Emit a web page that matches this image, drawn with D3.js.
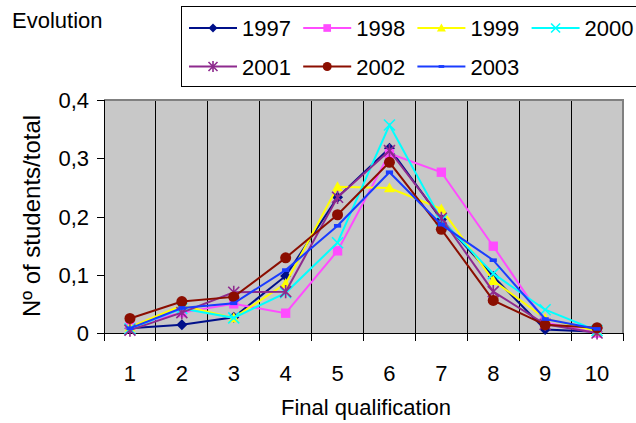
<!DOCTYPE html>
<html><head><meta charset="utf-8">
<script src="https://cdn.jsdelivr.net/npm/d3@7"></script>
<style>body{margin:0;background:#fff}svg{display:block}text{font-family:"Liberation Sans",Arial,sans-serif;fill:#000}</style>
</head><body>
<script>
const categories = ["1","2","3","4","5","6","7","8","9","10"];
const yTicks = [0, 0.1, 0.2, 0.3, 0.4];
const yTickLabels = ["0", "0,1", "0,2", "0,3", "0,4"];
const seriesNames = ["1997","1998","1999","2000","2001","2002","2003"];
const s1997 = [0.008, 0.014, 0.027, 0.098, 0.233, 0.317, 0.195, 0.097, 0.006, 0.002];
const s1998 = [0.012, 0.035, 0.050, 0.034, 0.141, 0.308, 0.276, 0.149, 0.018, 0.000];
const s1999 = [0.010, 0.047, 0.026, 0.085, 0.251, 0.249, 0.213, 0.090, 0.025, 0.003];
const s2000 = [0.007, 0.042, 0.026, 0.069, 0.155, 0.357, 0.194, 0.102, 0.040, 0.004];
const s2001 = [0.005, 0.035, 0.070, 0.071, 0.233, 0.313, 0.197, 0.071, 0.015, 0.000];
const s2002 = [0.025, 0.054, 0.062, 0.129, 0.203, 0.293, 0.178, 0.056, 0.014, 0.009];
const s2003 = [0.008, 0.043, 0.051, 0.108, 0.184, 0.276, 0.186, 0.125, 0.024, 0.007];
const seriesValues = [s1997, s1998, s1999, s2000, s2001, s2002, s2003];
const colors = ["#00108a", "#ff4cff", "#ffff00", "#00ffff", "#8e2a8e", "#8b0e00", "#1a3cff"];
const markers = ["diamond", "square", "triangle", "x", "star", "circle", "dash"];

(function () {
const W = 636, H = 423;
const pL = 104, pR = 623, pT = 100, pB = 333;

const svg = d3.select("body").append("svg").attr("width", W).attr("height", H);

const x = d3.scaleBand().domain(categories).range([pL, pR]).padding(0);
const y = d3.scaleLinear().domain([0, 0.4]).range([pB, pT]);

function txt(g, str, tx, ty, size, anchor, rot) {
  return g.append("text").text(str).attr("font-size", size).attr("text-anchor", anchor || "start")
    .attr("transform", `translate(${tx},${ty})` + (rot ? ` rotate(${rot})` : ""));
}

svg.append("rect").attr("x", pL).attr("y", pT).attr("width", pR - pL).attr("height", pB - pT)
  .attr("fill", "#c8c8c8");
const bounds = categories.slice(1).map(c => x(c));
svg.selectAll("line.grid").data(bounds).enter().append("line")
  .attr("x1", d => d).attr("x2", d => d).attr("y1", pT).attr("y2", pB)
  .attr("stroke", "#000").attr("stroke-width", 1).attr("shape-rendering", "crispEdges");
svg.append("path").attr("d", `M${pL},${pT}H${pR}V${pB}`).attr("fill", "none")
  .attr("stroke", "#808080").attr("stroke-width", 1.5).attr("shape-rendering", "crispEdges");

const yAxis = d3.axisLeft(y).tickValues(yTicks).tickSize(7).tickFormat((d, i) => yTickLabels[i]);
const ga = svg.append("g").attr("transform", `translate(${pL},0)`).call(yAxis);
ga.select(".domain").attr("stroke", "#000").attr("shape-rendering", "crispEdges");
ga.selectAll(".tick line").attr("stroke", "#000").attr("shape-rendering", "crispEdges");
ga.selectAll(".tick text").remove();
yTicks.forEach((v, i) => txt(svg, yTickLabels[i], 89, y(v) + 8, 22, "end"));

const xAxis = d3.axisBottom(x).tickSize(0).tickFormat("");
const gx = svg.append("g").attr("transform", `translate(0,${pB})`).call(xAxis);
gx.select(".domain").attr("stroke", "#000").attr("shape-rendering", "crispEdges");
const tickPos = [pL].concat(bounds, [pR]);
svg.selectAll("line.xt").data(tickPos).enter().append("line")
  .attr("x1", d => d).attr("x2", d => d).attr("y1", pB).attr("y2", pB + 8)
  .attr("stroke", "#000").attr("shape-rendering", "crispEdges");
categories.forEach(c => txt(svg, c, x(c) + x.bandwidth() / 2, 381, 22, "middle"));

txt(svg, "Final qualification", 366, 415, 22, "middle");
txt(svg, "Nº of students/total", 40, 216, 24, "middle", -90);
txt(svg, "Evolution", 12, 28, 22, "start");

function drawMarker(g, type, color, cx, cy, s) {
  if (type === "diamond") {
    g.append("path").attr("d", `M${cx},${cy - s}L${cx + s},${cy}L${cx},${cy + s}L${cx - s},${cy}Z`).attr("fill", color);
  } else if (type === "square") {
    g.append("rect").attr("x", cx - s * 0.85).attr("y", cy - s * 0.85).attr("width", s * 1.7).attr("height", s * 1.7).attr("fill", color);
  } else if (type === "triangle") {
    g.append("path").attr("d", `M${cx},${cy - s}L${cx + s},${cy + s * 0.8}L${cx - s},${cy + s * 0.8}Z`).attr("fill", color);
  } else if (type === "x") {
    g.append("path").attr("d", `M${cx - s},${cy - s}L${cx + s},${cy + s}M${cx - s},${cy + s}L${cx + s},${cy - s}`)
      .attr("stroke", color).attr("stroke-width", 1.6).attr("fill", "none");
  } else if (type === "star") {
    g.append("path").attr("d", `M${cx - s},${cy - s}L${cx + s},${cy + s}M${cx - s},${cy + s}L${cx + s},${cy - s}M${cx},${cy - s * 1.2}L${cx},${cy + s * 1.2}`)
      .attr("stroke", color).attr("stroke-width", 1.6).attr("fill", "none");
  } else if (type === "circle") {
    g.append("circle").attr("cx", cx).attr("cy", cy).attr("r", s).attr("fill", color);
  } else if (type === "dash") {
    g.append("rect").attr("x", cx - s * 0.8).attr("y", cy - s * 0.4).attr("width", s * 1.6).attr("height", s * 0.8).attr("fill", color);
  }
}

const line = d3.line().x((d, i) => x(categories[i]) + x.bandwidth() / 2).y(d => y(d));
seriesValues.forEach((vals, si) => {
  const g = svg.append("g");
  g.append("path").datum(vals).attr("d", line).attr("fill", "none").attr("stroke", colors[si]).attr("stroke-width", 2);
  vals.forEach((v, i) => drawMarker(g, markers[si], colors[si], x(categories[i]) + x.bandwidth() / 2, y(v), markers[si] === "dash" ? 4.5 : 5.5));
});

const lg = svg.append("g");
lg.append("rect").attr("x", 181).attr("y", 6).attr("width", 460).attr("height", 80)
  .attr("fill", "#fff").attr("stroke", "#000").attr("stroke-width", 1).attr("shape-rendering", "crispEdges");
seriesNames.forEach((name, i) => {
  const col = i % 4, row = Math.floor(i / 4);
  const lx = 189 + col * 114.2, ly = 28 + row * 38.5;
  lg.append("line").attr("x1", lx).attr("x2", lx + 48).attr("y1", ly).attr("y2", ly).attr("stroke", colors[i]).attr("stroke-width", 2);
  drawMarker(lg, markers[i], colors[i], lx + 24, ly, markers[i] === "dash" ? 3.5 : 4.5);
  txt(lg, name, lx + 53, ly + 8, 22, "start");
});
})();
</script>
</body></html>
